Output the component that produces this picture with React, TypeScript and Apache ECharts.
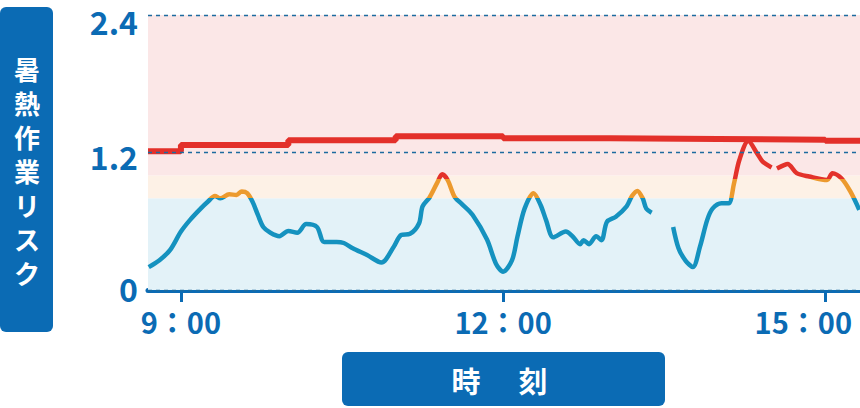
import React, { useEffect, useRef } from "react";
import * as echarts from "echarts";

// ---- data ----
const riskTimes = [
  "8:42", "8:48", "8:54", "9:00", "9:05", "9:11", "9:15", "9:19", "9:22", "9:27",
  "9:31", "9:34", "9:37", "9:40", "9:43", "9:46", "9:50", "9:55", "10:00", "10:05",
  "10:10", "10:16", "10:20", "10:27", "10:31", "10:36", "10:44", "10:52", "10:59", "11:03",
  "11:08", "11:13", "11:15", "11:19", "11:23", "11:26", "11:29", "11:33", "11:37", "11:43",
  "11:51", "11:56", "12:00", "12:05", "12:08", "12:12", "12:17", "12:21", "12:24", "12:28",
  "12:35", "12:39", "12:43", "12:45", "12:48", "12:52", "12:55", "12:58", "13:03", "13:09",
  "13:12", "13:15", "13:18", "13:20", "13:23", "13:29", "13:35", "13:38", "13:42", "13:46",
  "13:50", "13:54", "13:57", "14:02", "14:06", "14:09", "14:12", "14:17", "14:22", "14:25",
  "14:30", "14:31", "14:33", "14:37", "14:39", "14:44", "14:51", "15:01", "15:04", "15:09",
  "15:14", "15:19",
];
const riskValues: (number | null)[] = [
  0.2, 0.26, 0.35, 0.51, 0.61, 0.71, 0.77, 0.82, 0.8, 0.835,
  0.83, 0.86, 0.845, 0.77, 0.655, 0.55, 0.5, 0.47, 0.515, 0.5,
  0.575, 0.55, 0.42, 0.42, 0.41, 0.365, 0.305, 0.24, 0.38, 0.48,
  0.49, 0.58, 0.73, 0.81, 0.93, 1.01, 0.96, 0.81, 0.75, 0.655,
  0.44, 0.23, 0.16, 0.26, 0.465, 0.71, 0.845, 0.74, 0.61, 0.46,
  0.51, 0.465, 0.4, 0.435, 0.4, 0.47, 0.435, 0.595, 0.64, 0.73,
  0.82, 0.865, 0.8, 0.71, 0.675, null, 0.55, 0.365, 0.255, 0.2,
  0.378, 0.61, 0.71, 0.757, 0.757, 0.93, 1.135, 1.3, 1.19, 1.12,
  1.07, null, 1.06, 1.09, 1.1, 1.02, 0.99, 0.96, 1.02, 0.975,
  0.86, 0.7,
];

const limitTimes = ["8:41.6", "9:00", "10:00", "11:00", "12:00", "13:00", "14:00", "15:00", "15:19.4"];
const limitValues = [1.21, 1.265, 1.306, 1.341, 1.324, 1.318, 1.312, 1.303, 1.303];

const xTickTimes = ["9:00", "12:00", "15:00"];
const xTickLabels = ["9：00", "12：00", "15：00"];
const yTicks = [0, 1.2, 2.4];
const yTickStyles = ["bot", "mid", "top"];

const bandEdges = [0, 0.8, 1.0, 2.4];
const bandColors = ["#e3f2f8", "#fdf1e6", "#fbe7e7"];

const yTitleChars = ["暑", "熱", "作", "業", "リ", "ス", "ク"];
const xTitleChars = ["時", "刻"];

const toMin = (s: string) => {
  const [h, m] = s.split(":").map(Number);
  return h * 60 + m;
};

const X_MIN = toMin(limitTimes[0]);
const X_MAX = toMin(limitTimes[limitTimes.length - 1]);

const BLUE = "#0b6bb4";

export default function App() {
  const ref = useRef<HTMLDivElement>(null);
  useEffect(() => {
    document.body.style.margin = "0";
    if (!ref.current) return;
    const chart = echarts.init(ref.current, null, { renderer: "svg" });
    const font = '"Noto Sans CJK JP", "Noto Sans", sans-serif';
    const riskData = riskTimes.map((t, i) => [toMin(t), riskValues[i] === null ? "-" : riskValues[i]]);
    const limitData = limitTimes.map((t, i) => [toMin(t), limitValues[i]]);
    const tickVals = xTickTimes.map(toMin);
    const labelStyle = {
      color: BLUE,
      fontFamily: font,
      fontWeight: "bold",
      fontSize: 29,
    };
    const yLabelStyle = {
      color: BLUE,
      fontFamily: font,
      fontWeight: "bold",
      fontSize: 32,
    };

    const yTitleEls = yTitleChars.map((c, i) => ({
      type: "text",
      x: 27,
      y: 68 + i * 34,
      style: {
        text: c,
        fill: "#ffffff",
        font: `bold 26px ${font}`,
        align: "center",
        verticalAlign: "middle",
      },
    }));
    const xTitleEls = xTitleChars.map((c, i) => ({
      type: "text",
      x: 466 + i * 67,
      y: 380,
      style: {
        text: c,
        fill: "#ffffff",
        font: `bold 29px ${font}`,
        align: "center",
        verticalAlign: "middle",
      },
    }));

    chart.setOption({
      animation: false,
      grid: {
        left: 148,
        right: 0,
        top: 15,
        bottom: 118,
        containLabel: false,
        outerBoundsMode: "none",
      },
      xAxis: {
        type: "value",
        min: X_MIN,
        max: X_MAX,
        axisLine: { show: true, lineStyle: { color: BLUE, width: 5 } },
        axisTick: {
          show: true,
          customValues: tickVals,
          length: 12,
          lineStyle: { color: BLUE, width: 3 },
        },
        axisLabel: {
          customValues: tickVals,
          formatter: (v: number) => {
            const i = tickVals.indexOf(v);
            if (i < 0) return "";
            return i === tickVals.length - 1 ? `{last|${xTickLabels[i]}}` : xTickLabels[i];
          },
          ...labelStyle,
          margin: 16,
          rich: {
            last: { ...labelStyle, padding: [0, 44, 0, 0] },
          },
        },
        splitLine: { show: false },
      },
      yAxis: {
        type: "value",
        min: yTicks[0],
        max: yTicks[yTicks.length - 1],
        interval: yTicks[1] - yTicks[0],
        z: 5,
        axisLine: { show: false },
        axisTick: { show: false },
        axisLabel: {
          ...yLabelStyle,
          margin: 10,
          formatter: (v: number) => {
            const i = yTicks.findIndex((t) => Math.abs(t - v) < 1e-6);
            const name = yTickStyles[i] ?? "mid";
            return `{${name}|${String(+v.toFixed(1))}}`;
          },
          rich: {
            top: { ...yLabelStyle, lineHeight: 20, padding: [12, 0, 0, 0] },
            mid: { ...yLabelStyle, lineHeight: 24, padding: [6, 0, 0, 0] },
            bot: { ...yLabelStyle, lineHeight: 24, padding: [0, 0, 4, 0] },
          },
        },
        splitLine: {
          show: true,
          lineStyle: { color: "#1d6b9f", width: 1.3, type: [4, 4] },
        },
      },
      visualMap: {
        show: false,
        type: "piecewise",
        seriesIndex: 1,
        dimension: 1,
        pieces: [
          { lt: 0.8, color: "#1592bf" },
          { gte: 0.8, lt: 0.97, color: "#ec9a2e" },
          { gte: 0.97, color: "#e3322b" },
        ],
      },
      series: [
        {
          type: "line",
          step: "end",
          data: limitData,
          symbol: "none",
          lineStyle: { color: "#e3302a", width: 6 },
          z: 3,
          markArea: {
            silent: true,
            data: bandColors.map((c, i) => [
              { yAxis: bandEdges[i], itemStyle: { color: c } },
              { yAxis: bandEdges[i + 1] },
            ]),
          },
        },
        {
          type: "line",
          data: riskData,
          symbol: "none",
          smooth: 0.3,
          connectNulls: false,
          lineStyle: { width: 4.5 },
          z: 4,
        },
      ],
      graphic: [
        {
          type: "rect",
          shape: { x: 0, y: 7, width: 53, height: 325, r: 6 },
          style: { fill: BLUE },
        },
        ...yTitleEls,
        {
          type: "rect",
          shape: { x: 342, y: 352, width: 323, height: 54, r: 6 },
          style: { fill: BLUE },
        },
        ...xTitleEls,
      ],
    });
    return () => chart.dispose();
  }, []);
  return <div ref={ref} style={{ width: 860, height: 408 }} />;
}
